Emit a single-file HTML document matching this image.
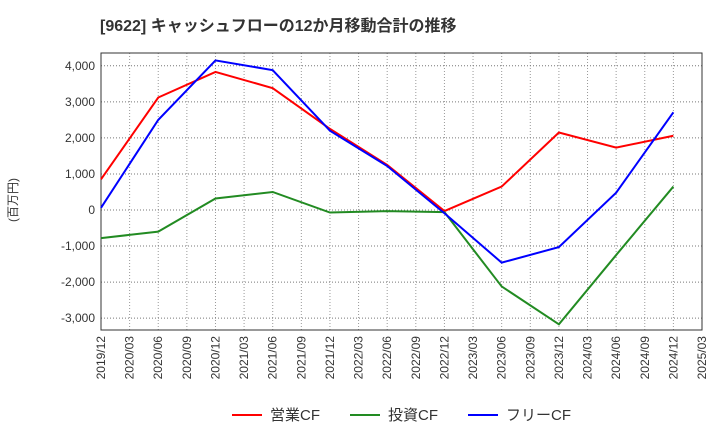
<!DOCTYPE html>
<html><head><meta charset="utf-8"><style>body{margin:0;background:#fff}svg text{font-family:"Liberation Sans","Noto Sans CJK JP",sans-serif}</style></head>
<body>
<svg id="c" width="720" height="440" xmlns="http://www.w3.org/2000/svg">
<text x="100" y="31" font-size="16" font-weight="bold" fill="#333">[9622]  キャッシュフローの12か月移動合計の推移</text>
<text transform="translate(17,200) rotate(-90)" font-size="12" fill="#333" text-anchor="middle">(百万円)</text>
</svg>
<script>
const xLabels=["2019/12","2020/03","2020/06","2020/09","2020/12","2021/03","2021/06","2021/09","2021/12","2022/03","2022/06","2022/09","2022/12","2023/03","2023/06","2023/09","2023/12","2024/03","2024/06","2024/09","2024/12","2025/03"];
const yTicks=[-3000,-2000,-1000,0,1000,2000,3000,4000];
const pointIdx=[0,2,4,6,8,10,12,14,16,18,20];
const opCF=[850,3120,3830,3380,2250,1250,-30,650,2150,1730,2060];
const invCF=[-780,-600,320,500,-70,-30,-60,-2120,-3170,-1250,650];
const freeCF=[60,2500,4150,3880,2200,1220,-90,-1460,-1030,480,2710];
const svg=document.getElementById('c');const NS='http://www.w3.org/2000/svg';
const L=101,R=702,T=53,B=330;
const xs=i=>L+(R-L)*i/(xLabels.length-1);
const ys=v=>210-v*0.03605;
function mk(t,a){const e=document.createElementNS(NS,t);for(const k in a)e.setAttribute(k,a[k]);svg.appendChild(e);return e;}
xLabels.forEach((l,i)=>{
 const g=mk('line',{x1:xs(i),x2:xs(i),y1:T,y2:B,stroke:'#999','stroke-dasharray':'1,2'});
 
 
 const t=mk('text',{transform:`translate(${xs(i)+4},${B+6}) rotate(-90)`,'font-size':'12',fill:'#333','text-anchor':'end'});
 t.textContent=l;
 
 
});
yTicks.forEach(v=>{
 const g=mk('line',{x1:L,x2:R,y1:ys(v),y2:ys(v),stroke:'#777','stroke-dasharray':'1,2'});
 
 
 const t=mk('text',{x:L-6,y:ys(v)+4,'font-size':'12',fill:'#333','text-anchor':'end'});
 t.textContent=v.toLocaleString('en-US');
 
 
});
const fr=mk('rect',{x:L,y:T,width:R-L,height:B-T,fill:'none',stroke:'#333'});


[[opCF,'#f00','operating-cf-line'],[invCF,'#228b22','investing-cf-line'],[freeCF,'#00f','free-cf-line']].forEach(([d,c,n])=>{
 const p=mk('polyline',{points:d.map((v,i)=>xs(pointIdx[i])+','+ys(v)).join(' '),fill:'none',stroke:c,'stroke-width':'2'});
 
 
});
const leg=[['営業CF','#f00',232],['投資CF','#228b22',350],['フリーCF','#00f',468]];
leg.forEach(([l,c,x])=>{
 const ln=mk('line',{x1:x,x2:x+30,y1:415,y2:415,stroke:c,'stroke-width':'2'});
 
 
 const t=mk('text',{x:x+38,y:420,'font-size':'15',fill:'#333'});
 t.textContent=l;
 
 
});
</script>
</body></html>
